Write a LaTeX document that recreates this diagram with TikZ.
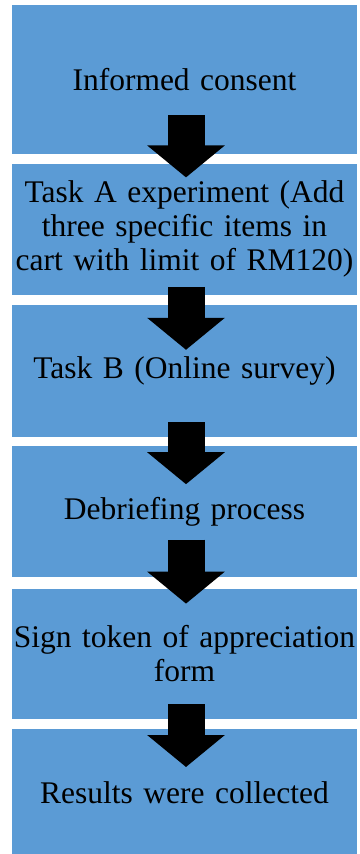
\documentclass[tikz,border=0pt]{standalone}
\usepackage{fontspec}
\setmainfont{Liberation Serif}
\usetikzlibrary{positioning,arrows.meta}
\definecolor{stepblue}{RGB}{91,155,213}
\tikzset{
stepbox/.style={fill=stepblue, text width=345pt, align=center, inner xsep=0pt, inner ysep=3pt, font=\fontsize{31.5}{34}\selectfont},
bigarrow/.style={line width=37pt, -{Triangle[length=32pt,width=76pt]}}
}

\begin{document}
\begin{tikzpicture}
\useasboundingbox (0,0) rectangle (359pt,-854pt);
\node[stepbox, minimum height=149pt, anchor=north] (consent) at (184.5pt,-5pt) {Informed consent};
\node[stepbox, minimum height=131pt, below=9pt of consent] (taskA) {Task A experiment (Add\\three specific items in\\cart with limit of RM120)};
\node[stepbox, minimum height=132pt, below=10pt of taskA] (taskB) {Task B (Online survey)};
\node[stepbox, minimum height=131pt, below=9pt of taskB] (debrief) {Debriefing process};
\node[stepbox, minimum height=130pt, below=11pt of debrief] (token) {Sign token of appreciation\\form};
\node[stepbox, minimum height=127pt, below=10pt of token] (results) {Results were collected};

\draw[bigarrow] ([xshift=1.5pt,yshift=39pt]consent.south) -- ([xshift=1.5pt,yshift=-14pt]taskA.north);
\draw[bigarrow] ([xshift=1.5pt,yshift=8pt]taskA.south) -- ([xshift=1.5pt,yshift=-45pt]taskB.north);
\draw[bigarrow] ([xshift=1.5pt,yshift=15pt]taskB.south) -- ([xshift=1.5pt,yshift=-38pt]debrief.north);
\draw[bigarrow] ([xshift=1.5pt,yshift=38pt]debrief.south) -- ([xshift=1.5pt,yshift=-15pt]token.north);
\draw[bigarrow] ([xshift=1.5pt,yshift=15pt]token.south) -- ([xshift=1.5pt,yshift=-38pt]results.north);
\end{tikzpicture}
\end{document}
